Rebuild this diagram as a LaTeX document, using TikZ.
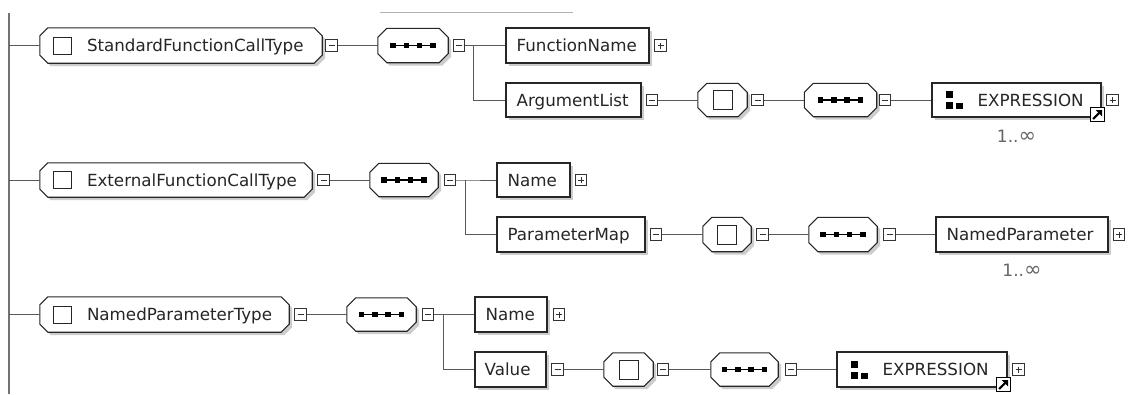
\documentclass[tikz,border=0pt]{standalone}
\usepackage{fontspec}
\setmainfont{DejaVu Sans}
\usetikzlibrary{shadows,calc}

% chamfered outline drawn around an (invisible) placeholder node
\newcommand\octframe[2]{%
  \path[frame] ([xshift=#2pt]#1.north west) -- ([xshift=-#2pt]#1.north east)
    -- ([yshift=-#2pt]#1.north east) -- ([yshift=#2pt]#1.south east)
    -- ([xshift=-#2pt]#1.south east) -- ([xshift=#2pt]#1.south west)
    -- ([yshift=#2pt]#1.south west) -- ([yshift=-#2pt]#1.north west) -- cycle;}
% sequence compositor glyph
\newcommand\seqglyph[1]{%
  \draw[line width=1.4pt] ([xshift=-22pt]#1.center) -- ([xshift=22pt]#1.center);
  \foreach \dx in {-20,-6.67,6.67,20}
    \fill ([xshift=\dx pt]#1.center) ++(-2.8pt,-2.8pt) rectangle ++(5.6pt,5.6pt);}
% "all" compositor glyph
\newcommand\allglyph[1]{%
  \draw[line width=1pt, draw=black!85] ([xshift=-9.5pt,yshift=-9.5pt]#1.center) rectangle ++(19pt,19pt);}
% complex-type glyph inside an element
\newcommand\typeglyph[1]{%
  \draw[line width=1pt, draw=black!85] ([xshift=14pt,yshift=-8.5pt]#1.west) rectangle ++(18pt,17pt);}
% group glyph (three squares)
\newcommand\groupglyph[1]{%
  \fill ([xshift=15pt,yshift=2pt]#1.west) rectangle ++(7pt,7pt);
  \fill ([xshift=15pt,yshift=-9pt]#1.west) rectangle ++(7pt,7pt);
  \fill ([xshift=25pt,yshift=-9pt]#1.west) rectangle ++(7pt,6pt);}
% reference marker in the lower right corner of a box
\newcommand\refglyph[2]{%
  \node[refmark] (#1) at ([xshift=-4pt,yshift=3pt]#2.south east) {};
  \draw[line width=2pt] ([xshift=-4.5pt,yshift=-4.5pt]#1.center) -- ([xshift=1.5pt,yshift=1.5pt]#1.center);
  \fill ([xshift=4.5pt,yshift=4.5pt]#1.center) -- ([xshift=4.5pt,yshift=-2pt]#1.center)
    -- ([xshift=-2pt,yshift=4.5pt]#1.center) -- cycle;}

\tikzset{
  frame/.style={draw=black!85, line width=1.1pt, fill=white,
    drop shadow={shadow xshift=3pt, shadow yshift=-3pt, fill=black!20, opacity=1}},
  slot/.style 2 args={shape=rectangle, inner sep=0pt, minimum width=#1pt, minimum height=#2pt},
  box/.style 2 args={slot={#1}{#2}, frame},
  sign/.style={shape=rectangle, draw=black!80, line width=0.8pt, fill=white, inner sep=0pt, minimum size=11.5pt},
  minus/.style={sign, path picture={\draw[line width=0.9pt]
      ([xshift=-3pt]path picture bounding box.center) -- ([xshift=3pt]path picture bounding box.center);}},
  plus/.style={sign, path picture={\draw[line width=0.9pt]
      ([xshift=-3pt]path picture bounding box.center) -- ([xshift=3pt]path picture bounding box.center)
      ([yshift=-3pt]path picture bounding box.center) -- ([yshift=3pt]path picture bounding box.center);}},
  conn/.style={draw=black!65, line width=0.9pt},
  lbl/.style={anchor=base west, inner sep=0pt, text=black!85, font=\fontsize{16.7}{18}\selectfont},
  card/.style={inner sep=0pt, text=black!60, font=\fontsize{17}{18}\selectfont},
  refmark/.style={shape=rectangle, draw=black, line width=1pt, fill=white, inner sep=0pt, minimum size=14pt},
}

\begin{document}
\begin{tikzpicture}[x=1pt, y=-1pt]
\useasboundingbox[fill=white] (0,0) rectangle (1136,394);

% spine and rule
\coordinate (spineTop) at (9,13);
\coordinate (spineBot) at (9,394);
\draw[draw=black!55, line width=1.5pt] (spineTop) -- (spineBot);
\coordinate (ruleL) at (380,12);
\coordinate (ruleR) at (573,12);
\draw[draw=black!30, line width=0.8pt] (ruleL) -- (ruleR);

% ---- StandardFunctionCallType
\node[slot={282}{35}] (e1) at (181,45.5) {};
\node[slot={70}{34}] (s1) at (413,45.5) {};
\node[box={143}{35}] (fn) at (577.5,45.5) {};
\node[box={135}{34}] (al) at (573.5,100) {};
\node[slot={49}{33}] (a1) at (722.5,100) {};
\node[slot={72}{33}] (s2) at (840.5,100) {};
\node[box={169}{34}] (x1) at (1016.5,100) {};

% ---- ExternalFunctionCallType
\node[slot={272}{34}] (e2) at (176,180) {};
\node[slot={68}{33}] (s3) at (404,180) {};
\node[box={73}{34}] (n1) at (533.5,180) {};
\node[box={148}{35}] (pm) at (571,234.5) {};
\node[slot={48}{34}] (a2) at (727,234.5) {};
\node[slot={68}{34}] (s4) at (843,234.5) {};
\node[box={172}{35}] (np) at (1022,234.5) {};

% ---- NamedParameterType
\node[slot={249}{35}] (e3) at (164.5,314.5) {};
\node[slot={69}{33}] (s5) at (381.5,314.5) {};
\node[box={72}{35}] (n2) at (511,314.5) {};
\node[box={71}{35}] (vl) at (510.5,369.5) {};
\node[slot={49}{33}] (a3) at (628.5,369.5) {};
\node[slot={67}{33}] (s6) at (744.5,369.5) {};
\node[box={170}{35}] (x2) at (922,369.5) {};

% chamfered outlines
\octframe{e1}{8} \octframe{e2}{8} \octframe{e3}{8}
\octframe{s1}{9} \octframe{s2}{9} \octframe{s3}{9}
\octframe{s4}{9} \octframe{s5}{9} \octframe{s6}{9}
\octframe{a1}{9} \octframe{a2}{9} \octframe{a3}{9}

% glyphs
\typeglyph{e1} \typeglyph{e2} \typeglyph{e3}
\seqglyph{s1} \seqglyph{s2} \seqglyph{s3}
\seqglyph{s4} \seqglyph{s5} \seqglyph{s6}
\allglyph{a1} \allglyph{a2} \allglyph{a3}
\groupglyph{x1} \groupglyph{x2}
\refglyph{r1}{x1} \refglyph{r2}{x2}

% labels
\node[lbl] (te1) at ([xshift=47pt,yshift=-6pt]e1.west) {StandardFunctionCallType};
\node[lbl] (te2) at ([xshift=47pt,yshift=-6pt]e2.west) {ExternalFunctionCallType};
\node[lbl] (te3) at ([xshift=47pt,yshift=-6pt]e3.west) {NamedParameterType};
\node[lbl] (tfn) at ([xshift=11pt,yshift=-6pt]fn.west) {FunctionName};
\node[lbl] (tal) at ([xshift=11pt,yshift=-6pt]al.west) {ArgumentList};
\node[lbl] (tn1) at ([xshift=11pt,yshift=-6pt]n1.west) {Name};
\node[lbl] (tpm) at ([xshift=11pt,yshift=-6pt]pm.west) {ParameterMap};
\node[lbl] (tnp) at ([xshift=11pt,yshift=-6pt]np.west) {NamedParameter};
\node[lbl] (tn2) at ([xshift=11pt,yshift=-6pt]n2.west) {Name};
\node[lbl] (tvl) at ([xshift=10pt,yshift=-6pt]vl.west) {Value};
\node[lbl] (tx1) at ([xshift=46pt,yshift=-6pt]x1.west) {EXPRESSION};
\node[lbl] (tx2) at ([xshift=46pt,yshift=-6pt]x2.west) {EXPRESSION};
\node[card] (c1) at ([yshift=-19pt]x1.south) {1..{\fontsize{21}{21}\selectfont ∞}};
\node[card] (c2) at ([yshift=-18pt]np.south) {1..{\fontsize{21}{21}\selectfont ∞}};

% expand / collapse signs
\node[minus] (m1) at (331.5,45.5) {};
\node[minus] (m2) at (459,45.5) {};
\node[plus]  (p1) at (660.5,45.5) {};
\node[minus] (m3) at (652,100) {};
\node[minus] (m4) at (757.5,100) {};
\node[minus] (m5) at (885,100) {};
\node[plus]  (p2) at (1112.5,100) {};

\node[minus] (m6) at (323.5,180) {};
\node[minus] (m7) at (450,180) {};
\node[plus]  (p3) at (581,180) {};
\node[minus] (m8) at (656,234.5) {};
\node[minus] (m9) at (762.5,234.5) {};
\node[minus] (m10) at (889.5,234.5) {};
\node[plus]  (p4) at (1119,234.5) {};

\node[minus] (m11) at (300.5,314.5) {};
\node[minus] (m12) at (428,314.5) {};
\node[plus]  (p5) at (559,314.5) {};
\node[minus] (m13) at (557.5,369.5) {};
\node[minus] (m14) at (663,369.5) {};
\node[minus] (m15) at (791,369.5) {};
\node[plus]  (p6) at (1018.5,369.5) {};

% branch points
\coordinate (br1) at (473,45.5);
\coordinate (br2) at (465,180);
\coordinate (br3) at (443,314.5);

% connectors
\draw[conn] (e1.west -| spineTop) -- (e1.west);
\draw[conn] (m1.east) -- (s1.west);
\draw[conn] (m2.east) -- (br1) -- (fn.west);
\draw[conn] (br1) |- (al.west);
\draw[conn] (m3.east) -- (a1.west);
\draw[conn] (m4.east) -- (s2.west);
\draw[conn] (m5.east) -- (x1.west);

\draw[conn] (e2.west -| spineTop) -- (e2.west);
\draw[conn] (m6.east) -- (s3.west);
\draw[conn] (m7.east) -- (br2) -- (n1.west);
\draw[conn] (br2) |- (pm.west);
\draw[conn] (m8.east) -- (a2.west);
\draw[conn] (m9.east) -- (s4.west);
\draw[conn] (m10.east) -- (np.west);

\draw[conn] (e3.west -| spineTop) -- (e3.west);
\draw[conn] (m11.east) -- (s5.west);
\draw[conn] (m12.east) -- (br3) -- (n2.west);
\draw[conn] (br3) |- (vl.west);
\draw[conn] (m13.east) -- (a3.west);
\draw[conn] (m14.east) -- (s6.west);
\draw[conn] (m15.east) -- (x2.west);
\end{tikzpicture}
\end{document}
